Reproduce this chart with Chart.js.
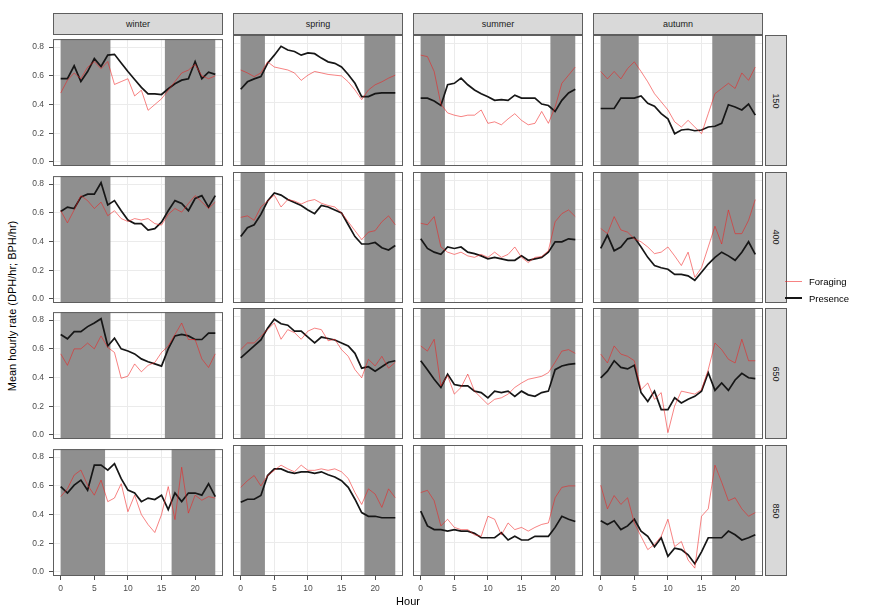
<!DOCTYPE html>
<html>
<head>
<meta charset="utf-8">
<script src="https://cdn.jsdelivr.net/npm/chart.js@4.4.0/dist/chart.umd.min.js"></script>
<style>
  body { margin: 0; background: #fff; font-family: "Liberation Sans", Arial, sans-serif; }
  #wrap { position: relative; width: 885px; height: 609px; overflow: hidden; }
  #wrap canvas { position: absolute; }
  .strip { position: absolute; background: #d9d9d9; border: 1px solid #5e5e5e; box-sizing: border-box;
           font-size: 9px; color: #1a1a1a; display: flex; align-items: center; justify-content: center; }
  .strip.side span { transform: rotate(90deg); white-space: nowrap; }
  .lbl { position: absolute; color: #000; white-space: nowrap; }
  .key { position: absolute; width: 17px; }
</style>
</head>
<body>
<div id="wrap"></div>
<script>
// facet labels
const seasons = ['winter', 'spring', 'summer', 'autumn'];
const depths = ['150', '400', '650', '850'];
const hours = [0,1,2,3,4,5,6,7,8,9,10,11,12,13,14,15,16,17,18,19,20,21,22,23];
const xTicks = [0, 5, 10, 15, 20];
const yTicks = [0, 0.2, 0.4, 0.6, 0.8];

// night shading: end of night (sunrise) and start of night (sunset), per depth row, per season
const nightEnd = [[7.4, 3.6, 3.6, 5.65], [7.4, 3.6, 3.6, 5.65], [7.4, 3.6, 3.6, 5.65], [6.6, 3.6, 3.6, 5.65]];
const nightStart = [[15.5, 18.4, 19.3, 16.6], [15.5, 18.4, 19.3, 16.6], [15.5, 18.4, 19.3, 16.6], [16.5, 18.4, 19.3, 16.6]];

// depth 150 (winter, spring, summer, autumn)
const presence150 = [
  [0.58,0.58,0.67,0.56,0.63,0.72,0.665,0.745,0.75,0.69,0.63,0.575,0.52,0.475,0.475,0.47,0.51,0.545,0.57,0.58,0.70,0.58,0.625,0.61],
  [0.49,0.54,0.56,0.575,0.665,0.72,0.78,0.755,0.745,0.72,0.735,0.73,0.70,0.675,0.665,0.64,0.59,0.53,0.44,0.44,0.46,0.465,0.465,0.465],
  [0.43,0.43,0.41,0.38,0.52,0.53,0.565,0.52,0.485,0.46,0.44,0.415,0.42,0.415,0.45,0.43,0.43,0.43,0.39,0.38,0.34,0.415,0.465,0.49],
  [0.36,0.36,0.36,0.43,0.43,0.43,0.445,0.395,0.375,0.325,0.29,0.19,0.215,0.22,0.21,0.215,0.235,0.24,0.26,0.385,0.37,0.35,0.39,0.315]
];
const foraging150 = [
  [0.48,0.57,0.62,0.58,0.66,0.70,0.65,0.70,0.54,0.56,0.58,0.46,0.50,0.36,0.40,0.44,0.50,0.56,0.62,0.64,0.68,0.60,0.58,0.60],
  [0.62,0.60,0.575,0.60,0.675,0.64,0.63,0.62,0.60,0.55,0.585,0.61,0.60,0.59,0.585,0.58,0.54,0.485,0.42,0.485,0.52,0.54,0.565,0.585],
  [0.72,0.71,0.61,0.39,0.33,0.315,0.305,0.315,0.315,0.35,0.26,0.27,0.25,0.29,0.325,0.28,0.25,0.26,0.34,0.26,0.37,0.53,0.585,0.64],
  [0.61,0.56,0.61,0.56,0.63,0.675,0.61,0.54,0.46,0.405,0.35,0.27,0.235,0.28,0.235,0.19,0.325,0.46,0.495,0.53,0.495,0.60,0.55,0.64]
];

// depth 400
const presence400 = [
  [0.61,0.64,0.63,0.71,0.73,0.73,0.81,0.655,0.685,0.615,0.55,0.525,0.525,0.48,0.49,0.535,0.615,0.685,0.665,0.615,0.70,0.72,0.64,0.72],
  [0.42,0.48,0.50,0.57,0.66,0.715,0.70,0.67,0.65,0.63,0.60,0.575,0.63,0.62,0.60,0.58,0.50,0.42,0.37,0.37,0.38,0.345,0.33,0.36],
  [0.405,0.34,0.315,0.30,0.35,0.34,0.35,0.315,0.305,0.29,0.27,0.28,0.27,0.26,0.26,0.29,0.26,0.27,0.28,0.315,0.385,0.385,0.405,0.40],
  [0.34,0.43,0.325,0.35,0.405,0.415,0.35,0.28,0.225,0.21,0.20,0.165,0.165,0.155,0.125,0.18,0.235,0.28,0.315,0.29,0.26,0.315,0.385,0.30]
];
const foraging400 = [
  [0.615,0.53,0.62,0.72,0.685,0.63,0.675,0.58,0.615,0.56,0.54,0.56,0.55,0.56,0.525,0.515,0.59,0.63,0.605,0.665,0.72,0.675,0.63,0.675],
  [0.55,0.56,0.53,0.62,0.66,0.70,0.62,0.67,0.66,0.64,0.66,0.67,0.645,0.63,0.62,0.58,0.52,0.46,0.40,0.45,0.46,0.52,0.56,0.50],
  [0.51,0.50,0.555,0.35,0.315,0.30,0.315,0.29,0.28,0.30,0.28,0.315,0.28,0.30,0.35,0.28,0.245,0.28,0.285,0.325,0.52,0.575,0.60,0.555],
  [0.475,0.44,0.555,0.465,0.45,0.405,0.385,0.35,0.305,0.315,0.35,0.29,0.225,0.315,0.145,0.21,0.35,0.49,0.37,0.60,0.44,0.44,0.53,0.67]
];

// depth 650
const presence650 = [
  [0.70,0.67,0.72,0.72,0.755,0.78,0.81,0.62,0.675,0.60,0.585,0.565,0.53,0.51,0.495,0.48,0.60,0.69,0.70,0.69,0.665,0.665,0.71,0.71],
  [0.52,0.56,0.60,0.64,0.72,0.78,0.75,0.74,0.70,0.70,0.66,0.62,0.66,0.65,0.64,0.62,0.60,0.55,0.45,0.46,0.43,0.46,0.49,0.50],
  [0.50,0.44,0.375,0.32,0.41,0.34,0.33,0.33,0.295,0.285,0.25,0.295,0.285,0.295,0.26,0.295,0.27,0.26,0.285,0.295,0.44,0.465,0.475,0.48],
  [0.385,0.43,0.50,0.455,0.445,0.47,0.285,0.225,0.295,0.17,0.17,0.25,0.215,0.24,0.26,0.295,0.42,0.30,0.35,0.30,0.37,0.415,0.385,0.38]
];
const foraging650 = [
  [0.565,0.485,0.60,0.60,0.64,0.60,0.69,0.61,0.575,0.395,0.41,0.495,0.44,0.485,0.505,0.575,0.62,0.70,0.78,0.665,0.665,0.53,0.47,0.565],
  [0.575,0.62,0.62,0.665,0.71,0.755,0.645,0.71,0.69,0.645,0.70,0.72,0.71,0.635,0.645,0.575,0.53,0.44,0.385,0.51,0.465,0.53,0.45,0.49],
  [0.60,0.565,0.645,0.33,0.40,0.275,0.32,0.41,0.295,0.25,0.205,0.24,0.25,0.275,0.32,0.35,0.375,0.385,0.395,0.42,0.49,0.565,0.575,0.55],
  [0.545,0.485,0.60,0.545,0.53,0.50,0.305,0.35,0.24,0.285,0.015,0.195,0.295,0.285,0.275,0.305,0.44,0.62,0.575,0.51,0.485,0.645,0.50,0.50]
];

// depth 850
const presence850 = [
  [0.595,0.55,0.605,0.64,0.57,0.745,0.745,0.71,0.755,0.65,0.57,0.55,0.49,0.515,0.505,0.535,0.435,0.55,0.49,0.55,0.55,0.535,0.615,0.525],
  [0.47,0.49,0.49,0.515,0.65,0.695,0.695,0.675,0.665,0.675,0.675,0.665,0.675,0.655,0.64,0.615,0.57,0.49,0.40,0.375,0.375,0.365,0.365,0.365],
  [0.41,0.31,0.285,0.285,0.275,0.285,0.275,0.275,0.26,0.23,0.23,0.23,0.265,0.215,0.24,0.215,0.215,0.24,0.24,0.24,0.30,0.375,0.355,0.34],
  [0.345,0.32,0.345,0.285,0.31,0.355,0.275,0.24,0.17,0.23,0.105,0.16,0.15,0.115,0.055,0.135,0.23,0.23,0.23,0.275,0.25,0.215,0.23,0.25]
];
const foraging850 = [
  [0.525,0.58,0.675,0.71,0.605,0.535,0.64,0.49,0.515,0.615,0.42,0.535,0.40,0.33,0.275,0.40,0.595,0.365,0.73,0.41,0.535,0.50,0.525,0.515],
  [0.57,0.615,0.65,0.58,0.65,0.685,0.72,0.695,0.675,0.72,0.685,0.685,0.695,0.685,0.695,0.675,0.63,0.535,0.455,0.56,0.525,0.435,0.56,0.50],
  [0.535,0.55,0.48,0.31,0.355,0.30,0.285,0.285,0.25,0.24,0.375,0.355,0.25,0.33,0.285,0.30,0.275,0.30,0.32,0.33,0.50,0.57,0.58,0.58],
  [0.585,0.425,0.515,0.455,0.50,0.33,0.24,0.15,0.185,0.24,0.355,0.17,0.205,0.08,0.025,0.375,0.425,0.72,0.605,0.48,0.50,0.425,0.375,0.40]
];

const presenceRows = [presence150, presence400, presence650, presence850];
const foragingRows = [foraging150, foraging400, foraging650, foraging850];

// layout (px)
const PANEL_W = 170, PANEL_H = 131;
const LEFT0 = 53, COL_STEP = 180;
const TOP0 = 35, ROW_STEP = 136.7;
const AXIS_W = 30, AXIS_H = 20, PAD_TOP = 6;
const FONT = '"Liberation Sans", Arial, sans-serif';
const SHADE = '#8f8f8f';
const FORAGING_COLOR = 'rgba(240, 30, 30, 0.55)';
const PRESENCE_COLOR = '#161616';

const wrap = document.getElementById('wrap');

// grey night bands + panel frame
const nightPlugin = {
  id: 'night',
  beforeDatasetsDraw(chart, args, opts) {
    const { ctx, chartArea: a, scales: { x } } = chart;
    const x0 = x.getPixelForValue(hours[0]);
    const x1 = x.getPixelForValue(opts.rise);
    const x2 = x.getPixelForValue(opts.set);
    const x3 = x.getPixelForValue(hours[hours.length - 1]);
    ctx.save();
    ctx.fillStyle = SHADE;
    ctx.fillRect(x0, a.top, x1 - x0, a.bottom - a.top);
    ctx.fillRect(x2, a.top, x3 - x2, a.bottom - a.top);
    ctx.restore();
  },
  afterDraw(chart) {
    const { ctx, chartArea: a } = chart;
    ctx.save();
    ctx.strokeStyle = '#5e5e5e';
    ctx.lineWidth = 1;
    ctx.strokeRect(a.left + 0.5, a.top + 0.5, a.right - a.left - 1, a.bottom - a.top - 1);
    ctx.restore();
  }
};

function toPoints(vals) {
  return hours.map((h, i) => ({ x: h, y: vals[i] }));
}

function makePanel(r, c) {
  const left = LEFT0 + c * COL_STEP;
  const top = TOP0 + r * ROW_STEP;
  const cv = document.createElement('canvas');
  cv.style.left = (left - AXIS_W) + 'px';
  cv.style.top = (top - PAD_TOP) + 'px';
  cv.style.width = (PANEL_W + AXIS_W) + 'px';
  cv.style.height = (PANEL_H + PAD_TOP + AXIS_H) + 'px';
  cv.width = PANEL_W + AXIS_W;
  cv.height = PANEL_H + PAD_TOP + AXIS_H;
  wrap.appendChild(cv);

  const showY = c === 0;
  const showX = r === depths.length - 1;

  new Chart(cv, {
    type: 'line',
    data: {
      datasets: [
        { label: 'Foraging', data: toPoints(foragingRows[r][c]), borderColor: FORAGING_COLOR, borderWidth: 1 },
        { label: 'Presence', data: toPoints(presenceRows[r][c]), borderColor: PRESENCE_COLOR, borderWidth: 1.7 }
      ]
    },
    options: {
      responsive: false,
      animation: false,
      devicePixelRatio: 1,
      layout: { padding: { top: PAD_TOP, left: 0, right: 0, bottom: 0 } },
      elements: { point: { radius: 0 }, line: { tension: 0 } },
      plugins: {
        legend: { display: false },
        tooltip: { enabled: false },
        night: { rise: nightEnd[r][c], set: nightStart[r][c] }
      },
      scales: {
        x: {
          type: 'linear', min: -1.15, max: 24.15,
          afterBuildTicks: s => { s.ticks = xTicks.map(v => ({ value: v })); },
          afterFit: s => { s.height = AXIS_H; },
          border: { display: false },
          grid: { color: '#ebebeb', tickColor: '#4d4d4d', tickLength: 4, drawTicks: showX },
          ticks: { display: showX, color: '#4d4d4d', padding: 4, maxRotation: 0,
                   font: { family: FONT, size: 8.5 } }
        },
        y: {
          min: -0.028, max: 0.856,
          afterBuildTicks: s => { s.ticks = yTicks.map(v => ({ value: v })); },
          afterFit: s => { s.width = AXIS_W; },
          border: { display: false },
          grid: { color: '#ebebeb', tickColor: '#4d4d4d', tickLength: 4, drawTicks: showY },
          ticks: { display: showY, color: '#4d4d4d', padding: 5,
                   callback: v => v.toFixed(1),
                   font: { family: FONT, size: 8.5 } }
        }
      }
    },
    plugins: [nightPlugin]
  });
}

// strips
seasons.forEach((s, c) => {
  const d = document.createElement('div');
  d.className = 'strip';
  d.style.left = (LEFT0 + c * COL_STEP) + 'px';
  d.style.top = '13px';
  d.style.width = PANEL_W + 'px';
  d.style.height = (TOP0 - 13) + 'px';
  d.textContent = s;
  wrap.appendChild(d);
});
depths.forEach((dp, r) => {
  const d = document.createElement('div');
  d.className = 'strip side';
  d.style.left = (LEFT0 + 3 * COL_STEP + PANEL_W + 2) + 'px';
  d.style.top = (TOP0 + r * ROW_STEP) + 'px';
  d.style.width = '22px';
  d.style.height = PANEL_H + 'px';
  d.innerHTML = '<span>' + dp + '</span>';
  wrap.appendChild(d);
});

for (let r = 0; r < depths.length; r++) {
  for (let c = 0; c < seasons.length; c++) makePanel(r, c);
}

// axis titles
const yTitle = document.createElement('div');
yTitle.className = 'lbl';
yTitle.textContent = 'Mean hourly rate (DPH/hr; BPH/hr)';
yTitle.style.fontSize = '11px';
yTitle.style.left = '12px';
yTitle.style.top = '306px';
yTitle.style.transform = 'translate(-50%, -50%) rotate(-90deg)';
wrap.appendChild(yTitle);

const xTitle = document.createElement('div');
xTitle.className = 'lbl';
xTitle.textContent = 'Hour';
xTitle.style.fontSize = '11px';
xTitle.style.left = '408px';
xTitle.style.top = '601px';
xTitle.style.transform = 'translate(-50%, -50%)';
wrap.appendChild(xTitle);

// legend
[['Foraging', FORAGING_COLOR, 1, 281], ['Presence', PRESENCE_COLOR, 2, 298]].forEach(([name, col, w, y]) => {
  const k = document.createElement('div');
  k.className = 'key';
  k.style.left = '785px';
  k.style.top = (y - w / 2) + 'px';
  k.style.borderTop = w + 'px solid ' + col;
  wrap.appendChild(k);
  const t = document.createElement('div');
  t.className = 'lbl';
  t.textContent = name;
  t.style.fontSize = '9.5px';
  t.style.left = '809px';
  t.style.top = y + 'px';
  t.style.transform = 'translateY(-50%)';
  wrap.appendChild(t);
});
</script>
</body>
</html>
